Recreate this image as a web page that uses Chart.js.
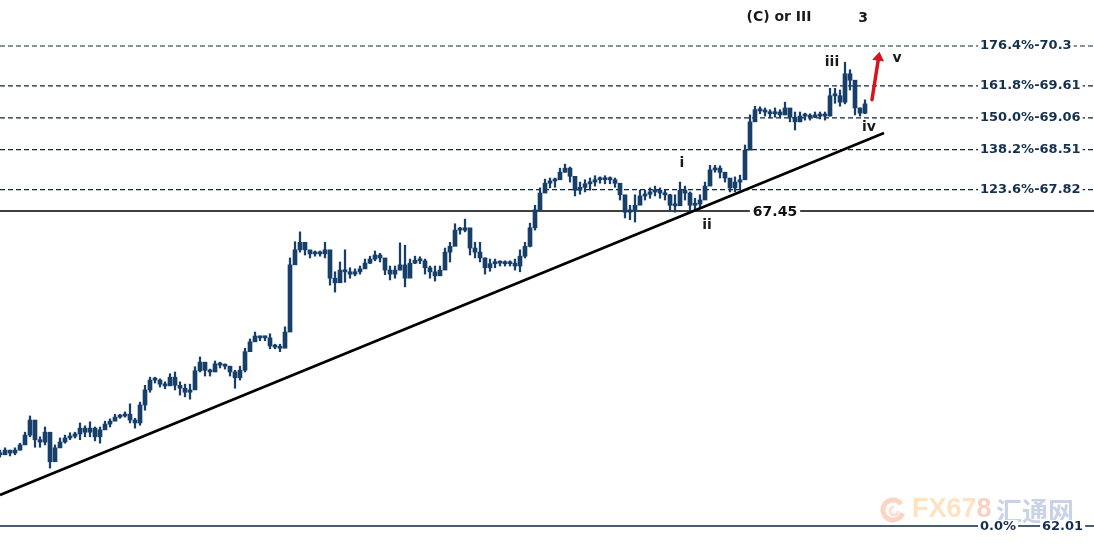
<!DOCTYPE html>
<html>
<head>
<meta charset="utf-8">
<script src="https://cdn.jsdelivr.net/npm/chart.js@4/dist/chart.umd.min.js"></script>
<style>
html,body{margin:0;padding:0;background:#fff;}
#wrap{position:relative;width:1094px;height:546px;}
</style>
</head>
<body>
<div id="wrap"><canvas id="c" width="1094" height="546"></canvas></div>
<script>
// Bar-by-bar prices (one bar per sampled period)
const highs = [63.32,63.36,63.32,63.36,63.44,63.63,63.91,63.75,63.55,63.72,
63.50,63.41,63.53,63.58,63.62,63.63,63.79,63.74,63.81,63.72,
63.72,63.82,63.86,63.94,63.94,63.98,64.12,63.87,64.15,64.44,
64.58,64.58,64.55,64.50,64.64,64.67,64.50,64.46,64.46,64.76,
64.93,64.81,64.72,64.86,64.84,64.81,64.77,64.70,64.77,65.08,
65.24,65.36,65.29,65.29,65.33,65.15,65.15,65.45,66.64,66.92,
67.09,66.86,66.76,66.76,66.76,66.91,66.69,66.40,66.57,66.78,
66.47,66.45,66.50,66.62,66.67,66.76,66.72,66.57,66.50,66.50,
66.90,66.86,66.62,66.67,66.66,66.62,66.50,66.50,66.50,66.81,
66.91,67.23,67.17,67.31,67.00,66.91,66.91,66.64,66.62,66.62,
66.59,66.59,66.59,66.62,66.78,66.91,67.24,67.55,67.85,68.00,
68.02,68.02,68.19,68.26,68.21,67.93,67.95,67.99,68.02,68.06,
68.04,68.06,68.04,68.02,67.90,67.64,67.55,67.73,67.81,67.81,
67.85,67.88,67.85,67.81,67.74,67.73,67.95,67.88,67.78,67.67,
67.73,67.95,68.24,68.24,68.23,68.12,67.99,68.04,68.07,68.59,
69.11,69.26,69.25,69.23,69.20,69.23,69.20,69.33,69.20,69.16,
69.16,69.14,69.13,69.16,69.16,69.16,69.57,69.57,69.54,70.02,
69.89,69.62,69.23,69.37];
const lows = [63.20,63.24,63.22,63.24,63.32,63.46,63.55,63.37,63.37,63.41,
63.01,63.15,63.36,63.44,63.50,63.53,63.50,63.55,63.55,63.48,
63.44,63.70,63.72,63.84,63.87,63.89,63.79,63.70,63.75,64.01,
64.32,64.48,64.41,64.38,64.48,64.36,64.27,64.24,64.20,64.53,
64.67,64.60,64.60,64.72,64.74,64.72,64.60,64.39,64.53,64.67,
65.05,65.21,65.21,65.21,65.07,65.07,65.02,65.12,65.40,66.57,
66.74,66.69,66.64,66.67,66.67,66.64,66.17,66.05,66.26,66.22,
66.29,66.33,66.36,66.47,66.54,66.59,66.57,66.35,66.26,66.29,
66.43,66.14,66.41,66.54,66.54,66.36,66.29,66.24,66.36,66.54,
66.57,67.04,67.05,67.09,66.69,66.64,66.57,66.36,66.41,66.47,
66.50,66.50,66.50,66.43,66.40,66.64,66.83,67.12,67.55,67.81,
67.85,67.86,67.99,68.12,67.95,67.71,67.74,67.78,67.81,67.88,
67.93,67.92,67.92,67.86,67.64,67.33,67.30,67.26,67.61,67.64,
67.67,67.71,67.67,67.64,67.47,67.43,67.67,67.64,67.43,67.47,
67.50,67.73,67.99,68.12,68.02,67.95,67.78,67.78,67.81,67.99,
68.68,69.11,69.13,69.09,69.06,69.07,69.06,69.11,68.99,68.85,
68.99,69.02,69.02,69.06,69.04,69.02,69.09,69.31,69.26,69.30,
69.54,69.11,69.09,69.13];
const closes = [63.24,63.32,63.27,63.32,63.41,63.58,63.84,63.50,63.46,63.63,
63.12,63.36,63.46,63.53,63.56,63.60,63.70,63.63,63.70,63.55,
63.67,63.77,63.82,63.89,63.91,63.94,63.84,63.79,64.10,64.36,
64.53,64.53,64.46,64.43,64.58,64.44,64.39,64.32,64.36,64.69,
64.84,64.70,64.67,64.81,64.79,64.77,64.67,64.57,64.70,65.02,
65.19,65.29,65.26,65.26,65.12,65.10,65.08,65.36,66.52,66.78,
66.91,66.78,66.71,66.72,66.71,66.78,66.29,66.21,66.43,66.40,
66.36,66.40,66.45,66.55,66.62,66.69,66.64,66.43,66.36,66.43,
66.52,66.29,66.55,66.60,66.59,66.47,66.40,66.33,66.43,66.74,
66.84,67.12,67.12,67.16,66.81,66.74,66.64,66.47,66.54,66.55,
66.55,66.54,66.55,66.50,66.67,66.84,67.16,67.47,67.76,67.93,
67.97,67.99,68.12,68.19,68.05,67.81,67.86,67.92,67.95,67.99,
67.99,68.00,67.99,67.93,67.73,67.43,67.47,67.55,67.71,67.74,
67.78,67.81,67.76,67.73,67.55,67.54,67.81,67.76,67.55,67.57,
67.64,67.88,68.16,68.19,68.12,68.02,67.85,67.95,67.99,68.50,
68.99,69.20,69.18,69.16,69.13,69.16,69.11,69.23,69.07,68.99,
69.09,69.09,69.07,69.11,69.09,69.09,69.44,69.44,69.33,69.82,
69.71,69.23,69.14,69.30];

// Fibonacci levels
const fibLabels = ['176.4%-70.3','161.8%-69.61','150.0%-69.06','138.2%-68.51','123.6%-67.82'];
const fibValues = [70.3, 69.61, 69.06, 68.51, 67.82];
const keyLevel = 67.45;
const zeroLevel = 62.01;
const zeroLabels = ['0.0%', '62.01'];

// Trendline endpoints (bar index, price)
const trendIdx = [0, 176.8];
const trendVal = [62.545, 68.797];

// Wave labels: text, bar index, price
const waveText = ['(C) or III', '3', 'iii', 'v', 'iv', 'i', 'ii'];
const waveIdx  = [155.8, 172.6, 166.4, 179.4, 173.8, 136.4, 141.4];
const waveVal  = [70.80, 70.77, 70.02, 70.09, 68.90, 68.28, 67.21];

// Arrow (bar index, price) from -> to
const arrowIdx = [174.4, 175.9];
const arrowVal = [69.37, 70.20];

const X_MAX = 218.8, Y_MIN = 61.6646, Y_MAX = 71.0945;
const NAVY = '#173f69';

const wick = highs.map((h, i) => ({x: i, y: [lows[i], h]}));
const body = closes.map((c, i) => {
  const o = i === 0 ? c : closes[i - 1];
  return {x: i, y: [Math.min(o, c), Math.max(o, c)]};
});
const hline = v => [{x: 0, y: v}, {x: X_MAX, y: v}];

const datasets = [
  {type: 'bar', data: wick, backgroundColor: NAVY, barThickness: 1.6, grouped: false, order: 2},
  {type: 'bar', data: body, backgroundColor: NAVY, barThickness: 4, grouped: false, order: 1, minBarLength: 2},
];
fibValues.forEach(v => datasets.push({type: 'line', data: hline(v), borderColor: '#0f2740', borderWidth: 1.2, borderDash: [5, 3], pointRadius: 0, order: 5}));
datasets.push({type: 'line', data: hline(keyLevel), borderColor: '#000', borderWidth: 1.3, pointRadius: 0, order: 5});
datasets.push({type: 'line', data: hline(zeroLevel), borderColor: '#10263d', borderWidth: 1.3, pointRadius: 0, order: 5});
datasets.push({type: 'line', data: [{x: trendIdx[0], y: trendVal[0]}, {x: trendIdx[1], y: trendVal[1]}], borderColor: '#000', borderWidth: 2.6, pointRadius: 0, order: 0});

const annot = {
  id: 'annot',
  afterDatasetsDraw(chart) {
    const ctx = chart.ctx, xs = chart.scales.x, ys = chart.scales.y;
    const X = v => xs.getPixelForValue(v), Y = v => ys.getPixelForValue(v);
    ctx.save();
    // watermark
    const wx = chart.chartArea.right - 201, wy = Y(zeroLevel) - 16;
    ctx.globalAlpha = 0.45;
    ctx.lineWidth = 5;
    ctx.strokeStyle = '#f4a27a';
    ctx.beginPath(); ctx.arc(wx, wy, 10, 0.3, Math.PI * 1.8); ctx.stroke();
    ctx.lineWidth = 3; ctx.strokeStyle = '#f7b9a0';
    ctx.beginPath(); ctx.arc(wx + 1, wy + 1, 4, 0, Math.PI * 1.5); ctx.stroke();
    ctx.font = 'bold 27px "Liberation Sans", Arial, sans-serif';
    ctx.textBaseline = 'middle'; ctx.textAlign = 'left';
    ctx.fillStyle = '#fcc27a';
    ctx.fillText('FX67', wx + 19, wy);
    ctx.fillStyle = '#f29a7a';
    ctx.fillText('8', wx + 19 + ctx.measureText('FX67').width, wy);
    ctx.font = 'bold 26px "Noto Sans CJK SC", sans-serif';
    ctx.fillStyle = '#8a9ccc';
    ctx.fillText('汇通网', wx + 103, wy + 1);
    ctx.globalAlpha = 1;

    // fib labels with white background
    ctx.font = 'bold 13px "DejaVu Sans", sans-serif';
    ctx.textBaseline = 'middle'; ctx.textAlign = 'left';
    const lx = X(196);
    fibLabels.forEach((t, k) => {
      const y = Y(fibValues[k]); const w = ctx.measureText(t).width;
      ctx.fillStyle = '#fff'; ctx.fillRect(lx - 2, y - 7, w + 4, 14);
      ctx.fillStyle = '#15304e'; ctx.fillText(t, lx, y);
    });
    // zero labels
    const zy = Y(zeroLevel) + 1;
    [[196, zeroLabels[0]], [208.4, zeroLabels[1]]].forEach(([ix, t]) => {
      const x = X(ix); const w = ctx.measureText(t).width;
      ctx.fillStyle = '#fff'; ctx.fillRect(x - 2, zy - 7, w + 4, 14);
      ctx.fillStyle = '#15304e'; ctx.fillText(t, x, zy);
    });
    // key level label
    ctx.font = 'bold 14px "DejaVu Sans", sans-serif';
    ctx.textAlign = 'center';
    const kx = X(155), ky = Y(keyLevel);
    const kw = ctx.measureText('67.45').width;
    ctx.fillStyle = '#fff'; ctx.fillRect(kx - kw / 2 - 3, ky - 7, kw + 6, 14);
    ctx.fillStyle = '#111'; ctx.fillText('67.45', kx, ky + 1);

    // wave labels
    ctx.font = 'bold 14px "DejaVu Sans", sans-serif';
    ctx.fillStyle = '#1a1a1a';
    waveText.forEach((t, k) => ctx.fillText(t, X(waveIdx[k]), Y(waveVal[k])));

    // red arrow
    const ax0 = X(arrowIdx[0]), ay0 = Y(arrowVal[0]), ax1 = X(arrowIdx[1]), ay1 = Y(arrowVal[1]);
    const ang = Math.atan2(ay1 - ay0, ax1 - ax0);
    ctx.strokeStyle = '#d3161c'; ctx.fillStyle = '#d3161c'; ctx.lineWidth = 3.5; ctx.lineCap = 'round';
    const bx = ax1 - Math.cos(ang) * 9, by = ay1 - Math.sin(ang) * 9;
    ctx.beginPath(); ctx.moveTo(ax0, ay0); ctx.lineTo(bx, by); ctx.stroke();
    ctx.beginPath();
    ctx.moveTo(ax1, ay1);
    ctx.lineTo(bx + Math.cos(ang + Math.PI / 2) * 6, by + Math.sin(ang + Math.PI / 2) * 6);
    ctx.lineTo(bx - Math.cos(ang + Math.PI / 2) * 6, by - Math.sin(ang + Math.PI / 2) * 6);
    ctx.closePath(); ctx.fill();
    ctx.restore();
  }
};

new Chart(document.getElementById('c'), {
  type: 'bar',
  data: {datasets},
  options: {
    responsive: false,
    animation: false,
    layout: {padding: 0},
    plugins: {legend: {display: false}, tooltip: {enabled: false}},
    scales: {
      x: {type: 'linear', min: 0, max: X_MAX, display: false, offset: false},
      y: {type: 'linear', min: Y_MIN, max: Y_MAX, display: false}
    }
  },
  plugins: [annot]
});
</script>
</body>
</html>
